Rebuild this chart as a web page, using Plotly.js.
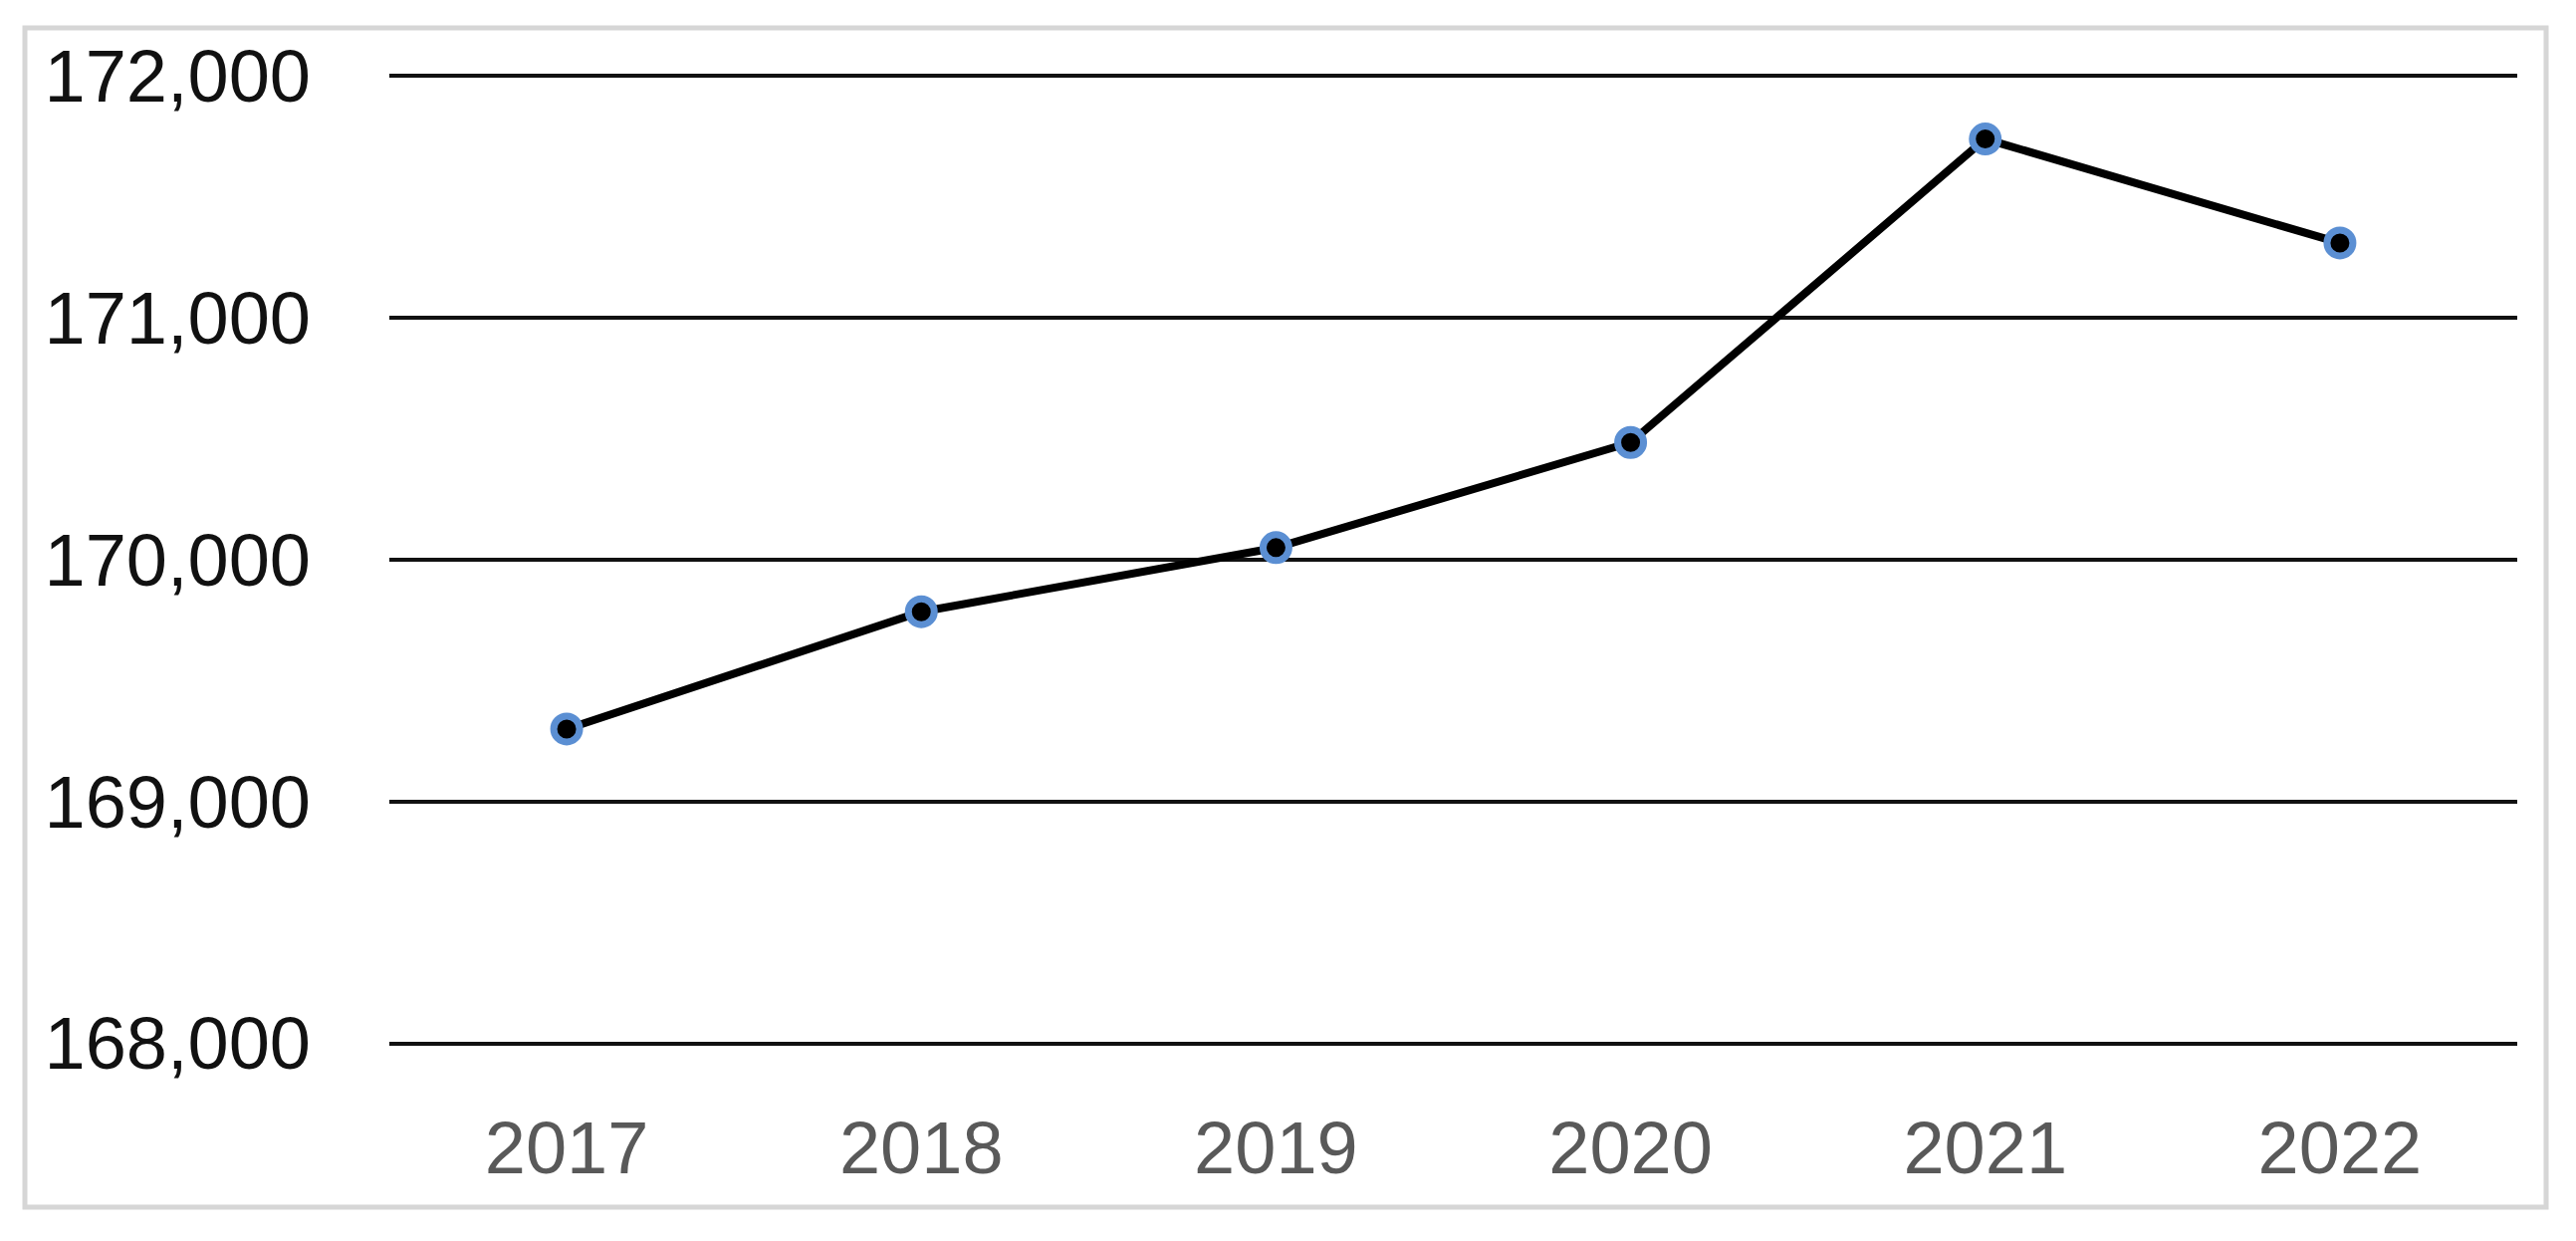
<!DOCTYPE html>
<html>
<head>
<meta charset="utf-8">
<script src="https://cdn.plot.ly/plotly-3.0.1.min.js"></script>
<style>
html,body{margin:0;padding:0;background:#fff;}
#chart{width:2587px;height:1246px;}
</style>
</head>
<body>
<div id="chart"></div>
<script>
const years = ["2017", "2018", "2019", "2020", "2021", "2022"];
const values = [169300, 169785, 170050, 170485, 171740, 171310];
const yTicks = [168000, 169000, 170000, 171000, 172000];

const W = 2587, H = 1246;
// axis range padded a little so the edge grid lines (168,000 and 172,000) are drawn
const yMin = 167990, yMax = 172010;
const pxPerUnit = 243 / 1000;
const m = {l: 391, r: 59, t: Math.round(76 - 10 * pxPerUnit), b: Math.round(198 - 10 * pxPerUnit)};
const pw = W - m.l - m.r, ph = H - m.t - m.b;
function px(x){ return (x - m.l) / pw; }
function py(y){ return (H - m.b - y) / ph; }

const trace = {
  x: years,
  y: values,
  type: 'scatter',
  mode: 'lines+markers',
  line: {color: '#000000', width: 8},
  marker: {size: 26, color: '#000000', line: {color: '#5b8fd3', width: 7}},
  hoverinfo: 'x+y',
  cliponaxis: false
};

const layout = {
  width: W, height: H,
  margin: m,
  paper_bgcolor: '#ffffff',
  plot_bgcolor: '#ffffff',
  showlegend: false,
  font: {family: 'Liberation Sans, Arial, sans-serif', size: 74, color: '#000000'},
  xaxis: {
    type: 'category',
    range: [-0.5, 5.5],
    showgrid: false,
    zeroline: false,
    showline: false,
    ticks: '',
    ticklabelstandoff: 53,
    tickfont: {family: 'Liberation Sans, Arial, sans-serif', size: 74, color: '#595959'},
    fixedrange: true
  },
  yaxis: {
    range: [yMin, yMax],
    tickvals: yTicks,
    tickformat: ',d',
    showgrid: true,
    gridcolor: '#111111',
    gridwidth: 4,
    zeroline: false,
    showline: false,
    ticks: '',
    ticklabelstandoff: 78,
    tickfont: {family: 'Liberation Sans, Arial, sans-serif', size: 74, color: '#111111'},
    fixedrange: true
  },
  shapes: [{
    type: 'rect', xref: 'paper', yref: 'paper', layer: 'below',
    x0: px(25), x1: px(2557), y0: py(28), y1: py(1212),
    line: {color: '#d6d6d6', width: 5},
    fillcolor: 'rgba(0,0,0,0)'
  }]
};

Plotly.newPlot('chart', [trace], layout, {displayModeBar: false, staticPlot: true});
</script>
</body>
</html>
